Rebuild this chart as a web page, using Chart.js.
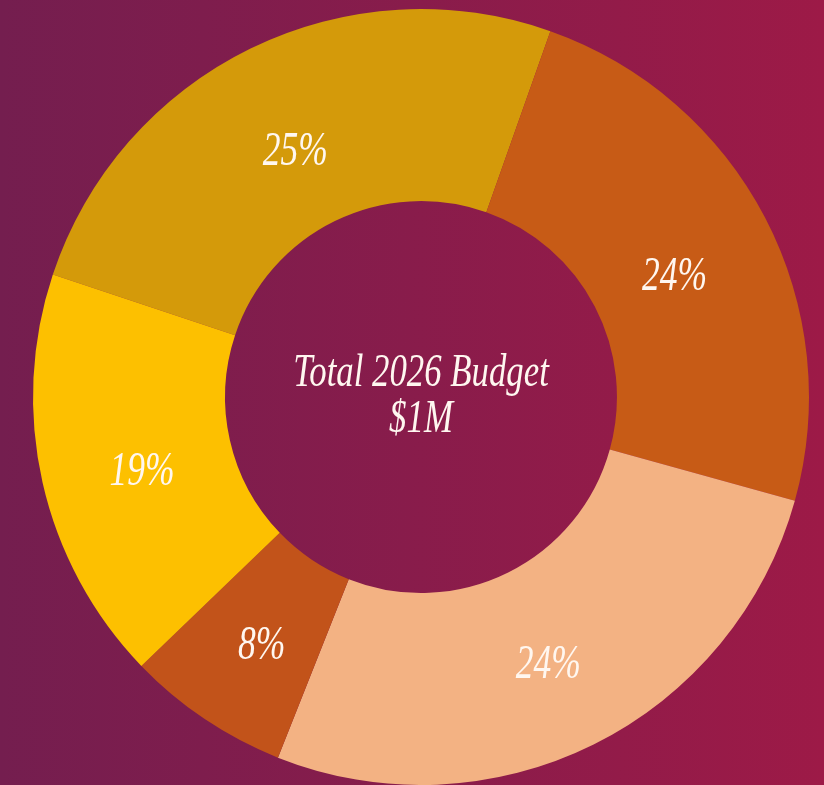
<!DOCTYPE html>
<html>
<head>
<meta charset="utf-8">
<script src="https://cdn.jsdelivr.net/npm/chart.js@4.4.1/dist/chart.umd.min.js"></script>
<style>
  html, body { margin: 0; padding: 0; }
  body { width: 824px; height: 785px; overflow: hidden;
         background: linear-gradient(to right, #741E4F 0%, #9D1A47 100%); }
  #wrap { position: relative; width: 824px; height: 785px; }
</style>
</head>
<body>
<div id="wrap"><canvas id="c" width="824" height="785"></canvas></div>
<script>
// Budget shares (thousands of $), clockwise from the 25% slice
const categories = ['Slice A', 'Slice B', 'Slice C', 'Slice D', 'Slice E'];
const values = [253, 239, 267, 68, 173];
const percentLabels = ['25%', '24%', '24%', '8%', '19%'];
const sliceColors = ['#D49A0A', '#C75B16', '#F3B283', '#C2531A', '#FDC000'];
const centerLines = ['Total 2026 Budget', '$1M'];

const FONT = '"Liberation Serif", "DejaVu Serif", serif';
const TEXT_COLOR = '#FFF7F0';
const SQUEEZE = 0.74;

function squeezedText(ctx, text, x, y, size) {
  ctx.save();
  ctx.font = 'italic ' + size + 'px ' + FONT;
  ctx.fillStyle = TEXT_COLOR;
  ctx.textAlign = 'center';
  ctx.textBaseline = 'middle';
  ctx.translate(x, y);
  ctx.scale(SQUEEZE, 1);
  ctx.fillText(text, 0, 0);
  ctx.restore();
}

const labelPlugin = {
  id: 'labelPlugin',
  afterDatasetsDraw(chart) {
    const ctx = chart.ctx;
    const meta = chart.getDatasetMeta(0);
    meta.data.forEach((arc, i) => {
      const mid = (arc.startAngle + arc.endAngle) / 2;
      const r = (arc.innerRadius + arc.outerRadius) / 2 - 6;
      const x = arc.x + Math.cos(mid) * r;
      const y = arc.y + Math.sin(mid) * r + 12;
      squeezedText(ctx, percentLabels[i], x, y, 48);
    });
    const a = meta.data[0];
    const cx = a.x, cy = a.y;
    squeezedText(ctx, centerLines[0], cx, cy - 23, 47);
    squeezedText(ctx, centerLines[1], cx, cy + 23, 47);
  }
};

new Chart(document.getElementById('c'), {
  type: 'doughnut',
  data: {
    labels: categories,
    datasets: [{
      data: values,
      backgroundColor: sliceColors,
      borderWidth: 0,
      hoverOffset: 0
    }]
  },
  options: {
    responsive: false,
    animation: false,
    rotation: 288.4,
    cutout: '50.5%',
    layout: { padding: { left: 18, top: 9, right: 0, bottom: 0 } },
    plugins: {
      legend: { display: false },
      tooltip: { enabled: false }
    }
  },
  plugins: [labelPlugin]
});
</script>
</body>
</html>
